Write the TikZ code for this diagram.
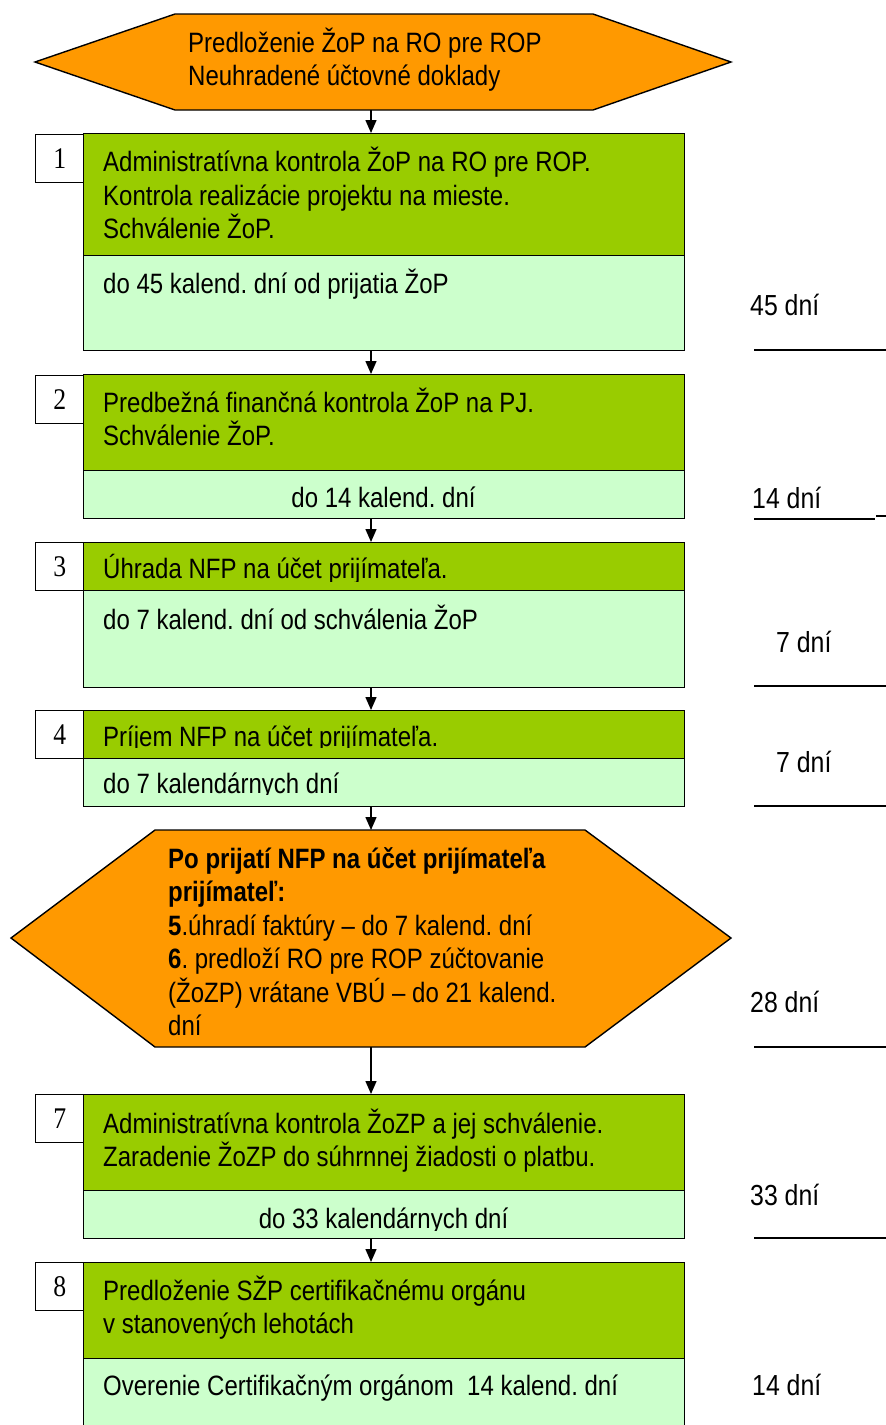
\documentclass[tikz,border=0pt]{standalone}
\usepackage{fontspec}
\setmainfont[FakeStretch=0.857]{Liberation Sans}
\newfontfamily\numfont[FakeStretch=0.857]{Liberation Serif}
\usetikzlibrary{arrows.meta}
\definecolor{hexorange}{HTML}{FF9900}
\definecolor{darkgreen}{HTML}{99CC00}
\definecolor{lightgreen}{HTML}{CCFFCC}
\frenchspacing
\tikzset{
  upper/.style = {draw, line width=1.4pt, fill=darkgreen, anchor=north west, inner sep=0pt, minimum width=601pt},
  lower/.style = {draw, line width=1.4pt, fill=lightgreen, anchor=north west, inner sep=0pt, minimum width=601pt},
  numbox/.style = {draw, line width=1.4pt, fill=white, anchor=north west, inner sep=0pt, minimum width=48pt, minimum height=48pt, font=\numfont\fontsize{30}{30}\selectfont},
  txt/.style = {anchor=base west, inner sep=0pt, align=left, font=\fontsize{28}{33.5}\selectfont},
  days/.style = {anchor=base west, inner sep=0pt, font=\fontsize{29}{30}\selectfont},
  flow/.style = {line width=1.4pt, -{Triangle[length=13pt,width=11pt]}},
  sep/.style = {line width=1.2pt}
}
\begin{document}
\begin{tikzpicture}[x=1pt,y=-1pt]
  \useasboundingbox (0,0) rectangle (886,1425);
  \clip (0,0) rectangle (886,1425);
  \coordinate (col) at (371,0);

  \draw [line width=1.4pt, fill=hexorange] (35,62) -- (175,14) -- (593,14) -- (731,62) -- (593,110) -- (175,110) -- cycle;
  \coordinate (hexA) at (371,110);
  \node [txt] (hexAtxt) at (188,85.5) {Predloženie ŽoP na RO pre ROP\\Neuhradené účtovné doklady};

  \node [upper, minimum height=122pt] (s1) at (83,133) {};
  \node [lower, minimum height=95pt] (s1b) at (83,255) {};
  \node [numbox] (n1) at (35,134) {1};
  \node [txt] (s1txt) at (103,238.5) {Administratívna kontrola ŽoP na RO pre ROP.\\Kontrola realizácie projektu na mieste.\\Schválenie ŽoP.};
  \node [txt] (s1btxt) at (103,293) {do 45 kalend. dní od prijatia ŽoP};

  \node [upper, minimum height=96pt] (s2) at (83,374) {};
  \node [lower, minimum height=48pt] (s2b) at (83,470) {};
  \node [numbox] (n2) at (35,375) {2};
  \node [txt] (s2txt) at (103,445.5) {Predbežná finančná kontrola ŽoP na PJ.\\Schválenie ŽoP.};
  \node [txt, anchor=base] (s2btxt) at (383.5,507) {do 14 kalend. dní};

  \node [upper, minimum height=48pt] (s3) at (83,542) {};
  \node [lower, minimum height=97pt] (s3b) at (83,590) {};
  \node [numbox] (n3) at (35,542) {3};
  \begin{scope}
    \clip (83,542) rectangle (684,581);
    \node [txt] (s3txt) at (103,578) {Úhrada NFP na účet prijímateľa.};
  \end{scope}
  \node [txt] (s3btxt) at (103,629) {do 7 kalend. dní od schválenia ŽoP};

  \node [upper, minimum height=48pt] (s4) at (83,710) {};
  \node [lower, minimum height=48pt] (s4b) at (83,758) {};
  \node [numbox] (n4) at (35,710) {4};
  \begin{scope}
    \clip (83,710) rectangle (684,747);
    \node [txt] (s4txt) at (103,746) {Príjem NFP na účet prijímateľa.};
  \end{scope}
  \begin{scope}
    \clip (83,758) rectangle (684,794);
    \node [txt] (s4btxt) at (103,793) {do 7 kalendárnych dní};
  \end{scope}

  \draw [line width=1.4pt, fill=hexorange] (11,938) -- (155,830) -- (585,830) -- (731,938) -- (585,1047) -- (155,1047) -- cycle;
  \coordinate (hexBtop) at (371,830);
  \coordinate (hexB) at (371,1047);
  \node [txt] (hexBtxt) at (168,1035.5) {\textbf{Po prijatí NFP na účet prijímateľa}\\\textbf{prijímateľ:}\\\textbf{5}.úhradí faktúry -- do 7 kalend. dní\\\textbf{6}. predloží RO pre ROP zúčtovanie\\(ŽoZP) vrátane VBÚ -- do 21 kalend.\\dní};

  \node [upper, minimum height=96pt] (s7) at (83,1094) {};
  \node [lower, minimum height=48pt] (s7b) at (83,1190) {};
  \node [numbox] (n7) at (35,1094) {7};
  \node [txt] (s7txt) at (103,1166.5) {Administratívna kontrola ŽoZP a jej schválenie.\\Zaradenie ŽoZP do súhrnnej žiadosti o platbu.};
  \begin{scope}
    \clip (83,1190) rectangle (684,1230);
    \node [txt, anchor=base] (s7btxt) at (383.5,1228) {do 33 kalendárnych dní};
  \end{scope}

  \node [upper, minimum height=96pt] (s8) at (83,1262) {};
  \node [lower, minimum height=80pt] (s8b) at (83,1358) {};
  \node [numbox] (n8) at (35,1262) {8};
  \node [txt] (s8txt) at (103,1333.5) {Predloženie SŽP certifikačnému orgánu\\v stanovených lehotách};
  \node [txt] (s8btxt) at (103,1395) {Overenie Certifikačným orgánom\ \ 14 kalend. dní};

  \draw [flow] (hexA) -- (s1.north -| col);
  \draw [flow] (s1b.south -| col) -- (s2.north -| col);
  \draw [flow] (s2b.south -| col) -- (s3.north -| col);
  \draw [flow] (s3b.south -| col) -- (s4.north -| col);
  \draw [flow] (s4b.south -| col) -- (hexBtop);
  \draw [flow] (hexB) -- (s7.north -| col);
  \draw [flow] (s7b.south -| col) -- (s8.north -| col);

  \node [days] (d1) at (750,315) {45 dní};
  \node [days] (d2) at (752,508) {14 dní};
  \node [days] (d3) at (776,652) {7 dní};
  \node [days] (d4) at (776,772) {7 dní};
  \node [days] (d5) at (750,1012) {28 dní};
  \node [days] (d7) at (750,1205) {33 dní};
  \node [days] (d8) at (752,1395) {14 dní};
  \draw [sep] (754,350) -- (886,350);
  \draw [sep] (754,519) -- (875,519);
  \draw [sep] (876,516) -- (886,516);
  \draw [sep] (754,686) -- (886,686);
  \draw [sep] (754,806) -- (886,806);
  \draw [sep] (754,1047) -- (886,1047);
  \draw [sep] (754,1238) -- (886,1238);
\end{tikzpicture}
\end{document}
